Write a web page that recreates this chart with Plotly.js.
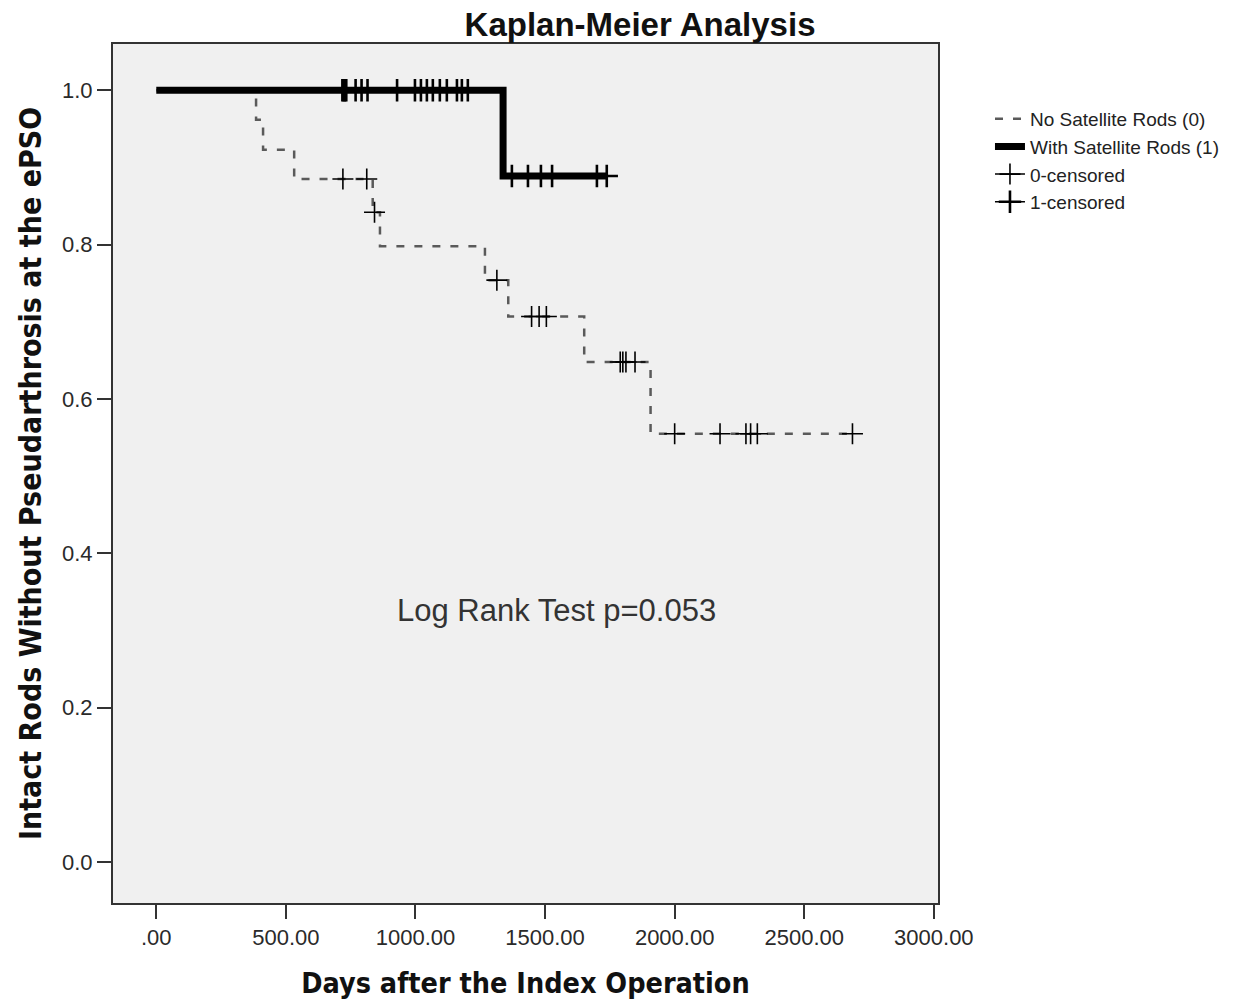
<!DOCTYPE html>
<html>
<head>
<meta charset="utf-8">
<script src="https://cdn.plot.ly/plotly-3.0.1.min.js"></script>
<style>
  html, body { margin: 0; padding: 0; background: #ffffff; }
  #chart { width: 1255px; height: 1000px; }
</style>
</head>
<body>
<div id="chart"></div>
<script>
// ---- Data ----
// Group 0: No Satellite Rods (step curve)
const timeNoSat = [0, 385, 412, 532, 835, 863, 1268, 1358, 1651, 1907, 2686];
const survNoSat = [1.000, 0.962, 0.923, 0.885, 0.842, 0.798, 0.754, 0.707, 0.648, 0.555, 0.555];
// Group 0 censored observations
const censTimeNoSat = [720, 812, 842, 1314, 1448, 1477, 1505, 1790, 1800, 1812, 1847, 2000, 2175, 2275, 2293, 2319, 2686];
const censSurvNoSat = [0.885, 0.885, 0.842, 0.754, 0.707, 0.707, 0.707, 0.648, 0.648, 0.648, 0.648, 0.555, 0.555, 0.555, 0.555, 0.555, 0.555];

// Group 1: With Satellite Rods (step curve)
const timeSat = [0, 1338, 1738];
const survSat = [1.000, 0.889, 0.889];
// Group 1 censored observations
const censTimeSat = [718, 723, 728, 733, 769, 792, 815, 929, 998, 1021, 1044, 1067, 1094, 1121, 1160, 1179, 1202, 1372, 1434, 1484, 1527, 1700, 1738];
const censSurvSat = [1, 1, 1, 1, 1, 1, 1, 1, 1, 1, 1, 1, 1, 1, 1, 1, 1, 0.889, 0.889, 0.889, 0.889, 0.889, 0.889];

// Axis ticks
const xTickVals = [0, 500, 1000, 1500, 2000, 2500, 3000];
const xTickText = ['.00', '500.00', '1000.00', '1500.00', '2000.00', '2500.00', '3000.00'];
const yTickVals = [0, 0.2, 0.4, 0.6, 0.8, 1.0];
const yTickText = ['0.0', '0.2', '0.4', '0.6', '0.8', '1.0'];

const seriesNames = ['No Satellite Rods (0)', 'With Satellite Rods (1)', '0-censored', '1-censored'];

// Interleave nulls so each censor mark stands alone (line shown only in legend)
function isolate(arr) {
  const out = [];
  arr.forEach(function (v) { out.push(v); out.push(null); });
  return out;
}

const traces = [
  {
    x: timeNoSat, y: survNoSat, name: seriesNames[0],
    type: 'scatter', mode: 'lines',
    line: { shape: 'hv', color: '#5a5a5a', width: 2.5, dash: '8px,10px' }
  },
  {
    x: timeSat, y: survSat, name: seriesNames[1],
    type: 'scatter', mode: 'lines',
    line: { shape: 'hv', color: '#000000', width: 7 }
  },
  {
    x: isolate(censTimeNoSat), y: isolate(censSurvNoSat), name: seriesNames[2],
    type: 'scatter', mode: 'lines+markers', connectgaps: false,
    line: { color: '#000000', width: 1.5 },
    marker: { symbol: 'cross-thin', size: 15, line: { color: '#000000', width: 1.6 } }
  },
  {
    x: isolate(censTimeSat), y: isolate(censSurvSat), name: seriesNames[3],
    type: 'scatter', mode: 'lines+markers', connectgaps: false,
    line: { color: '#000000', width: 1.5 },
    marker: { symbol: 'cross-thin', size: 16, line: { color: '#000000', width: 2.6 } }
  }
];

const axisFont = { family: 'Liberation Sans, Arial, sans-serif', size: 22, color: '#2a2a2a' };
const titleFamily = 'Liberation Sans Narrow, DejaVu Sans Condensed, Arial Narrow, sans-serif';

const layout = {
  width: 1255, height: 1000,
  paper_bgcolor: '#ffffff',
  plot_bgcolor: '#f0f0f0',
  margin: { l: 113, r: 317, t: 44, b: 97, pad: 0 },
  title: {
    text: 'Kaplan-Meier Analysis',
    font: { family: 'Liberation Sans, Arial, sans-serif', size: 33, color: '#111111', weight: 'bold' },
    x: 0.51, xref: 'container', xanchor: 'center',
    y: 0.976, yref: 'container', yanchor: 'middle'
  },
  xaxis: {
    range: [-167, 3016],
    tickvals: xTickVals, ticktext: xTickText,
    ticks: 'outside', ticklen: 14, tickwidth: 2, tickcolor: '#333333',
    tickfont: axisFont,
    showgrid: false, zeroline: false,
    showline: true, mirror: true, linecolor: '#333333', linewidth: 2,
    title: { text: 'Days after the Index Operation', font: { family: titleFamily, size: 28.5, color: '#111111', weight: 'bold' }, standoff: 25 }
  },
  yaxis: {
    range: [-0.053, 1.06],
    tickvals: yTickVals, ticktext: yTickText,
    ticks: 'outside', ticklen: 14, tickwidth: 2, tickcolor: '#333333',
    tickfont: axisFont,
    showgrid: false, zeroline: false,
    showline: true, mirror: true, linecolor: '#333333', linewidth: 2,
    title: { text: 'Intact Rods Without Pseudarthrosis at the ePSO', font: { family: titleFamily, size: 30, color: '#111111', weight: 'bold' }, standoff: 12 }
  },
  showlegend: true,
  legend: {
    x: 1.063, xanchor: 'left', y: 0.935, yanchor: 'top',
    bgcolor: 'rgba(0,0,0,0)',
    font: { family: 'Liberation Sans, Arial, sans-serif', size: 19, color: '#222222' },
    itemwidth: 30, tracegroupgap: 0
  },
  annotations: [{
    text: 'Log Rank Test p=0.053',
    xref: 'paper', yref: 'paper', x: 0.537, y: 0.341,
    xanchor: 'center', yanchor: 'middle', showarrow: false,
    font: { family: 'Liberation Sans, Arial, sans-serif', size: 31, color: '#333333' }
  }]
};

Plotly.newPlot('chart', traces, layout, { displayModeBar: false, staticPlot: true });
</script>
</body>
</html>
